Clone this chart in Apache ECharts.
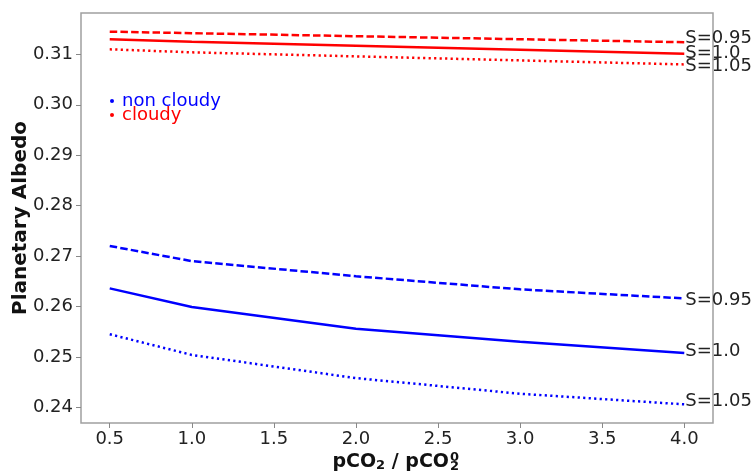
<!DOCTYPE html>
<html>
<head>
<meta charset="utf-8">
<script src="https://cdn.jsdelivr.net/npm/echarts@6/dist/echarts.min.js"></script>
<style>
	html, body { margin: 0; padding: 0; background: #fff; }
	#main { width: 756px; height: 472px; }
</style>
</head>
<body>
<div id="main"></div>
<script>
// pCO2 / pCO2^0
var xValues = [0.5, 1.0, 2.0, 3.0, 4.0];
var xTicks = [0.5, 1.0, 1.5, 2.0, 2.5, 3.0, 3.5, 4.0];
var yTicks = [0.24, 0.25, 0.26, 0.27, 0.28, 0.29, 0.30, 0.31];

// 非云 (non cloudy)
var clearS095 = [0.2720, 0.2690, 0.2660, 0.2634, 0.2616];
var clearS100 = [0.2636, 0.2599, 0.2556, 0.2530, 0.2508];
var clearS105 = [0.2545, 0.2504, 0.2458, 0.2427, 0.2406];
// 有云 (cloudy)
var cloudS095 = [0.3145, 0.3142, 0.3136, 0.3130, 0.3124];
var cloudS100 = [0.3130, 0.3125, 0.3117, 0.3109, 0.3101];
var cloudS105 = [0.3110, 0.3104, 0.3096, 0.3088, 0.3080];

var FONT = 'DejaVu Sans';
var DASH = [7.5, 3.2];
var DOT = [2.2, 3.3];

function pairs(ys) {
	return xValues.map(function (x, i) { return [x, ys[i]]; });
}

function makeSeries(name, ys, color, type, label, dy) {
	return {
		name: name,
		type: 'line',
		data: pairs(ys),
		showSymbol: false,
		symbol: 'circle',
		symbolSize: 3,
		itemStyle: { color: color },
		lineStyle: { color: color, width: 2.5, type: type },
		endLabel: {
			show: true,
			formatter: label,
			color: '#222',
			fontSize: 18,
			fontFamily: FONT,
			distance: 1,
			offset: [0, dy || 0]
		},
		emphasis: { disabled: true }
	};
}

var myChart = echarts.init(document.getElementById('main'));
var option = {
	animation: false,
	grid: {
		left: 81,
		right: 43,
		top: 13,
		bottom: 49,
		outerBoundsMode: 'none',
		show: true,
		borderColor: '#a0a0a0',
		borderWidth: 1.5,
		backgroundColor: 'transparent'
	},
	legend: {
		orient: 'vertical',
		left: 110,
		top: 92,
		itemGap: -4,
		itemWidth: 4,
		itemHeight: 4,
		padding: 0,
		selectedMode: false,
		textStyle: { fontSize: 18, fontFamily: FONT, padding: [0, 0, 0, 3] },
		data: [
			{ name: 'non cloudy', icon: 'circle', textStyle: { color: '#0000ff' } },
			{ name: 'cloudy', icon: 'circle', textStyle: { color: '#ff0000' } }
		]
	},
	xAxis: {
		type: 'value',
		min: 0.325,
		max: 4.175,
		axisLine: { show: false },
		splitLine: { show: false },
		axisTick: {
			show: true,
			length: 5,
			lineStyle: { color: '#888' },
			customValues: xTicks
		},
		axisLabel: {
			color: '#222',
			fontSize: 18,
			fontFamily: FONT,
			margin: 7,
			customValues: xTicks,
			formatter: function (v) { return v.toFixed(1); }
		}
	},
	yAxis: {
		type: 'value',
		min: 0.2369,
		max: 0.3182,
		name: 'Planetary Albedo',
		nameLocation: 'middle',
		nameGap: 50,
		nameMoveOverlap: false,
		nameTextStyle: { color: '#111', fontSize: 20, fontWeight: 'bold', fontFamily: FONT },
		axisLine: { show: false },
		splitLine: { show: false },
		axisTick: {
			show: true,
			length: 5,
			lineStyle: { color: '#888' },
			customValues: yTicks
		},
		axisLabel: {
			color: '#222',
			fontSize: 18,
			fontFamily: FONT,
			margin: 8,
			customValues: yTicks,
			formatter: function (v) { return v.toFixed(2); }
		}
	},
	graphic: [
		{
			type: 'text',
			right: 756 - 449,
			top: 452,
			style: {
				text: '{b|pCO}{s|2}{b| / pCO}',
				align: 'right',
				rich: {
					b: { fontSize: 19, fontWeight: 'bold', fontFamily: FONT, fill: '#111', lineHeight: 20 },
					s: { fontSize: 13, fontWeight: 'bold', fontFamily: FONT, fill: '#111', lineHeight: 20, verticalAlign: 'bottom', padding: [7, 0, 0, 0] }
				}
			}
		},
		{
			type: 'text',
			left: 450,
			top: 451,
			style: { text: '0', fontSize: 13, fontWeight: 'bold', fontFamily: FONT, fill: '#111' }
		},
		{
			type: 'text',
			left: 450,
			top: 460,
			style: { text: '2', fontSize: 13, fontWeight: 'bold', fontFamily: FONT, fill: '#111' }
		}
	],
	series: [
		makeSeries('non cloudy', clearS095, '#0000ff', DASH, 'S=0.95', 2),
		makeSeries('non cloudy', clearS100, '#0000ff', 'solid', 'S=1.0', -2),
		makeSeries('non cloudy', clearS105, '#0000ff', DOT, 'S=1.05', -3),
		makeSeries('cloudy', cloudS095, '#ff0000', DASH, 'S=0.95', -4),
		makeSeries('cloudy', cloudS100, '#ff0000', 'solid', 'S=1.0', -1),
		makeSeries('cloudy', cloudS105, '#ff0000', DOT, 'S=1.05', 2)
	]
};
myChart.setOption(option);
</script>
</body>
</html>
